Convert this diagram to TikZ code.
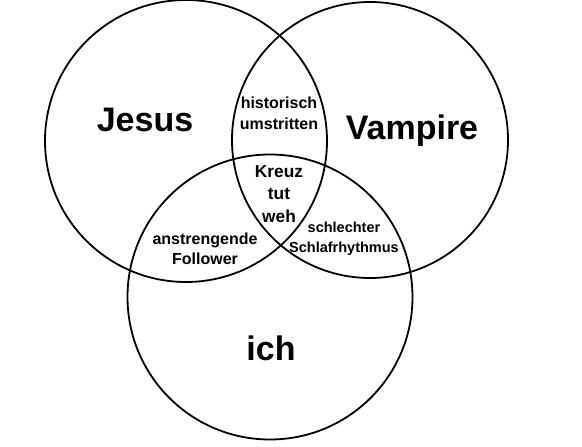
\documentclass[tikz,border=0pt]{standalone}
\usepackage{fontspec}
\setmainfont{Liberation Sans}

\tikzset{
  venn/.style={circle, draw, line width=1.8pt, minimum size=#1, inner sep=0pt},
  bigname/.style={font=\fontsize{34}{36}\selectfont\bfseries},
  cut/.style 2 args={font=\fontsize{#1}{#2}\selectfont\bfseries, align=center, inner sep=0pt}
}

\begin{document}
\begin{tikzpicture}[x=1pt, y=-1pt]
    \useasboundingbox (0,0) rectangle (582,447);

    % Circles
    \node[venn=282pt] (jesuscirc) at (186,141) {};
    \node[venn=276pt] (vampcirc) at (370,140) {};
    \node[venn=285pt] (ichcirc) at (270,297) {};

    % Names
    \node[bigname] (jesus) at (145,120) {Jesus};
    \node[bigname] (vampire) at (412,131) {Vampire};
    \node[bigname] (ich) at (271,348) {ich};

    % Overlaps
    \node[cut={16}{21}] (histo) at (279,113) {historisch\\umstritten};
    \node[cut={17.3}{22.5}] (kreuz) at (279,194) {Kreuz\\tut\\weh};
    \node[cut={16}{20}] (follow) at (205,249) {anstrengende\\Follower};
    \node[cut={14.5}{20}] (schlaf) at (344,239) {schlechter\\Schlafrhythmus};
\end{tikzpicture}
\end{document}
